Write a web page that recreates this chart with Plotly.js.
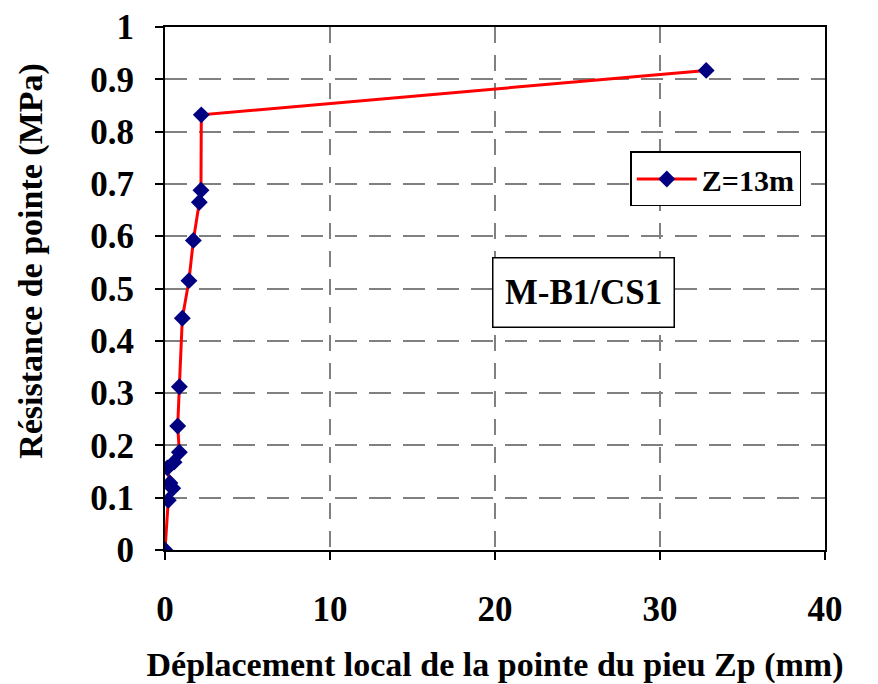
<!DOCTYPE html>
<html>
<head>
<meta charset="utf-8">
<script src="https://cdn.plot.ly/plotly-3.0.1.min.js"></script>
<style>html,body{margin:0;padding:0;background:#fff;}#chart{width:878px;height:684px;}</style>
</head>
<body>
<div id="chart"></div>
<script>
// Displacement Zp (mm)
const displacement = [0, 0.2, 0.47, 0.3, 0.14, 0.55, 0.87, 0.77, 0.87, 1.05, 1.45, 1.72, 2.08, 2.18, 2.2, 32.8];
// Point resistance (MPa)
const resistance = [0, 0.095, 0.118, 0.128, 0.157, 0.168, 0.187, 0.237, 0.312, 0.443, 0.515, 0.592, 0.665, 0.688, 0.832, 0.917];
const seriesName = "Z=13m";
const xTicks = [0, 10, 20, 30, 40];
const yTicks = [0, 0.1, 0.2, 0.3, 0.4, 0.5, 0.6, 0.7, 0.8, 0.9, 1];
const yTickText = ["0", "0.1", "0.2", "0.3", "0.4", "0.5", "0.6", "0.7", "0.8", "0.9", "1"];
const xTitle = "Déplacement local de la pointe du pieu Zp (mm)";
const yTitle = "Résistance de pointe (MPa)";
const boxLabel = "M-B1/CS1";

const font = "Liberation Serif";

const trace = {
  x: displacement, y: resistance, name: seriesName,
  type: "scatter", mode: "lines+markers",
  line: {color: "#ff0000", width: 3},
  marker: {symbol: "diamond", size: 13, color: "#000080"}
};

const layout = {
  width: 878, height: 684,
  margin: {l: 165, r: 53, t: 27, b: 134},
  paper_bgcolor: "#fff", plot_bgcolor: "#fff",
  font: {family: font, size: 30, color: "#000", weight: "bold"},
  showlegend: true,
  legend: {x: 0.705, y: 0.762, xanchor: "left", yanchor: "top",
    bordercolor: "#000", borderwidth: 1.5, bgcolor: "#fff", itemwidth: 60,
    font: {family: font, size: 30, color: "#000", weight: "bold"}},
  xaxis: {
    range: [0, 40], tickvals: xTicks, ticktext: xTicks.map(String),
    showline: true, linecolor: "#000", linewidth: 2, mirror: true,
    ticks: "outside", ticklen: 8, tickwidth: 2, tickcolor: "#000",
    ticklabelstandoff: 19,
    showgrid: true, gridcolor: "#808080", gridwidth: 1.5, griddash: "16px,12px",
    zeroline: false,
    tickfont: {family: font, size: 35, weight: "bold"},
    title: {text: xTitle, standoff: 24,
      font: {family: font, size: 34, weight: "bold"}}
  },
  yaxis: {
    range: [0, 1], tickvals: yTicks, ticktext: yTickText,
    showline: true, linecolor: "#000", linewidth: 2, mirror: true,
    ticks: "outside", ticklen: 8, tickwidth: 2, tickcolor: "#000",
    ticklabelstandoff: 14,
    showgrid: true, gridcolor: "#808080", gridwidth: 1.5, griddash: "22px,12px",
    zeroline: false,
    tickfont: {family: font, size: 35, weight: "bold"}
  },
  annotations: [{
    text: boxLabel, xref: "paper", yref: "paper", x: 0.634, y: 0.493,
    xanchor: "center", yanchor: "middle", showarrow: false,
    width: 156, height: 44,
    font: {family: font, size: 35, color: "#000", weight: "bold"},
    bordercolor: "#000", borderwidth: 1.5, borderpad: 12, bgcolor: "#fff"
  }, {
    text: yTitle, xref: "paper", yref: "paper", x: -0.203, y: 0.553,
    xanchor: "center", yanchor: "middle", showarrow: false, textangle: -90,
    font: {family: font, size: 34, color: "#000", weight: "bold"}
  }]
};

Plotly.newPlot("chart", [trace], layout, {displayModeBar: false});
</script>
</body>
</html>
